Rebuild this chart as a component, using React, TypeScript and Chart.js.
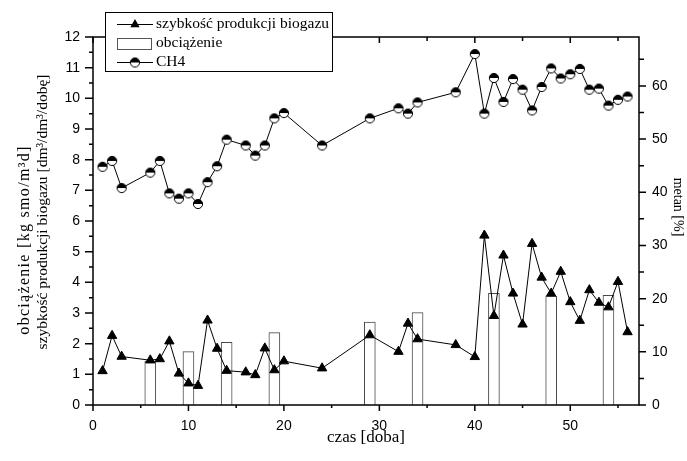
import React, { useEffect, useRef } from 'react';
import { Chart, registerables } from 'chart.js';

Chart.register(...registerables);

// ---- data ----
const days = [1, 2, 3, 6, 7, 8, 9, 10, 11, 12, 13, 14, 16, 17, 18, 19, 20, 24, 29, 32, 33, 34, 38, 40, 41, 42, 43, 44, 45, 46, 47, 48, 49, 50, 51, 52, 53, 54, 55, 56];
const biogasRate = [1.11, 2.26, 1.58, 1.46, 1.5, 2.08, 1.03, 0.71, 0.63, 2.76, 1.84, 1.12, 1.07, 0.98, 1.85, 1.14, 1.43, 1.2, 2.28, 1.74, 2.66, 2.15, 1.96, 1.57, 5.53, 2.91, 4.88, 3.64, 2.63, 5.26, 4.16, 3.64, 4.35, 3.36, 2.75, 3.75, 3.34, 3.19, 4.02, 2.38];
const methane = [44.8, 45.9, 40.8, 43.7, 45.9, 39.8, 38.8, 39.8, 37.8, 41.9, 44.9, 49.9, 48.8, 46.9, 48.8, 53.9, 54.9, 48.8, 53.9, 55.8, 54.8, 56.9, 58.8, 66.0, 54.8, 61.5, 57.0, 61.3, 59.3, 55.4, 59.8, 63.3, 61.4, 62.2, 63.2, 59.3, 59.5, 56.3, 57.4, 58.0];
const loadDays = [6, 10, 14, 19, 29, 34, 42, 48, 54];
const loadValues = [1.43, 1.74, 2.04, 2.36, 2.7, 3.01, 3.64, 3.55, 3.58];

const xTickValues = [0, 5, 10, 15, 20, 25, 30, 35, 40, 45, 50, 55];
const leftTickValues = [0, 0.5, 1, 1.5, 2, 2.5, 3, 3.5, 4, 4.5, 5, 5.5, 6, 6.5, 7, 7.5, 8, 8.5, 9, 9.5, 10, 10.5, 11, 11.5, 12];
const rightTickValues = [0, 5, 10, 15, 20, 25, 30, 35, 40, 45, 50, 55, 60, 65];

const labelBiogas = 'szybkość produkcji biogazu';
const labelLoad = 'obciążenie';
const labelCH4 = 'CH4';
const titleLeft1 = 'obciążenie [kg smo/m³d]';
const titleLeft2 = 'szybkość produkcji biogazu [dm³/dm³/dobę]';
const titleRight = 'metan [%]';
const titleBottom = 'czas [doba]';

const SERIF = '"Liberation Serif", "Times New Roman", serif';
const SANS = '"Liberation Sans", Arial, sans-serif';

function makeHalfCircle(): HTMLCanvasElement {
  const c = document.createElement('canvas');
  c.width = 12;
  c.height = 12;
  const g = c.getContext('2d')!;
  const cx = 6, cy = 6, r = 4.6;
  g.fillStyle = '#fff';
  g.beginPath();
  g.arc(cx, cy, r, 0, Math.PI);
  g.fill();
  g.fillStyle = '#000';
  g.beginPath();
  g.arc(cx, cy, r, Math.PI, 2 * Math.PI);
  g.closePath();
  g.fill();
  g.strokeStyle = '#000';
  g.lineWidth = 1;
  g.beginPath();
  g.arc(cx, cy, r, 0, 2 * Math.PI);
  g.stroke();
  return c;
}

export default function App() {
  const ref = useRef<HTMLCanvasElement>(null);

  useEffect(() => {
    document.body.style.margin = '0';
    Chart.defaults.font.family = SANS;
    const half = makeHalfCircle();

    const decorPlugin = {
      id: 'decor',
      afterDatasetsDraw(chart: any) {
        const { ctx, chartArea, scales } = chart;
        const { left, right, top, bottom } = chartArea;
        ctx.save();
        ctx.strokeStyle = '#000';
        ctx.lineWidth = 1.5;
        ctx.strokeRect(left, top, right - left, bottom - top);
        ctx.beginPath();
        leftTickValues.forEach((v) => {
          const y = scales.y.getPixelForValue(v);
          const len = v % 1 === 0 ? 8 : 4;
          ctx.moveTo(left - len, y);
          ctx.lineTo(left, y);
        });
        rightTickValues.forEach((v) => {
          const y = scales.y2.getPixelForValue(v);
          const len = v % 10 === 0 ? 7 : 5;
          ctx.moveTo(right, y);
          ctx.lineTo(right + len, y);
        });
        xTickValues.forEach((v) => {
          const x = scales.x.getPixelForValue(v);
          const major = v % 10 === 0;
          ctx.moveTo(x, bottom);
          ctx.lineTo(x, bottom + (major ? 6 : 3));
          ctx.moveTo(x, top);
          ctx.lineTo(x, top + (major ? 6 : 4));
        });
        ctx.stroke();

        // axis titles
        ctx.fillStyle = '#000';
        ctx.textAlign = 'center';
        ctx.textBaseline = 'middle';
        ctx.save();
        ctx.font = `16px ${SERIF}`;
        (ctx as any).letterSpacing = '1.3px';
        ctx.translate(25, 240);
        ctx.rotate(-Math.PI / 2);
        ctx.fillText(titleLeft1, 0, 0);
        ctx.restore();
        ctx.save();
        ctx.font = `15.5px ${SERIF}`;
        ctx.translate(43, 212);
        ctx.rotate(-Math.PI / 2);
        ctx.fillText(titleLeft2, 0, 0);
        ctx.restore();
        ctx.save();
        ctx.font = `14px ${SERIF}`;
        ctx.translate(678, 207);
        ctx.rotate(Math.PI / 2);
        ctx.fillText(titleRight, 0, 0);
        ctx.restore();
        ctx.font = `17px ${SERIF}`;
        ctx.fillText(titleBottom, (left + right) / 2, 438);
        ctx.restore();
      },
      afterDraw(chart: any) {
        const { ctx } = chart;
        ctx.save();
        ctx.fillStyle = '#fff';
        ctx.fillRect(105, 12, 228, 60);
        ctx.strokeStyle = '#000';
        ctx.lineWidth = 1;
        ctx.strokeRect(105.5, 12.5, 227, 59);
        ctx.beginPath();
        ctx.moveTo(117, 24.5);
        ctx.lineTo(153, 24.5);
        ctx.moveTo(117, 62.5);
        ctx.lineTo(153, 62.5);
        ctx.stroke();
        const r = 5.4;
        ctx.fillStyle = '#000';
        ctx.beginPath();
        ctx.moveTo(135, 24.5 - r);
        ctx.lineTo(135 + r * Math.sin((2 * Math.PI) / 3), 24.5 + r * 0.5);
        ctx.lineTo(135 - r * Math.sin((2 * Math.PI) / 3), 24.5 + r * 0.5);
        ctx.closePath();
        ctx.fill();
        ctx.strokeStyle = '#555';
        ctx.fillStyle = '#fff';
        ctx.fillRect(117, 38, 34, 11);
        ctx.strokeRect(117.5, 38.5, 34, 11);
        ctx.drawImage(half, 129, 56.5);
        ctx.fillStyle = '#000';
        ctx.font = `15.5px ${SERIF}`;
        ctx.textAlign = 'left';
        ctx.textBaseline = 'middle';
        ctx.fillText(labelBiogas, 156, 24);
        ctx.fillText(labelLoad, 156, 43);
        ctx.fillText(labelCH4, 156, 62);
        ctx.restore();
      },
    };

    const tickFont = { family: SANS, size: 14 };

    const chart = new Chart(ref.current as HTMLCanvasElement, {
      type: 'line',
      data: {
        datasets: [
          {
            type: 'bar',
            label: labelLoad,
            data: loadDays.map((d, i) => ({ x: d, y: loadValues[i] })),
            xAxisID: 'x',
            yAxisID: 'y',
            backgroundColor: '#ffffff',
            borderColor: '#4a4a4a',
            borderWidth: 1,
            barThickness: 11,
            order: 3,
          } as any,
          {
            type: 'line',
            label: labelBiogas,
            data: days.map((d, i) => ({ x: d, y: biogasRate[i] })),
            xAxisID: 'x',
            yAxisID: 'y',
            borderColor: '#000',
            borderWidth: 1,
            backgroundColor: '#000',
            pointStyle: 'triangle',
            pointRadius: 5.4,
            pointBorderWidth: 1,
            pointBorderColor: '#000',
            pointBackgroundColor: '#000',
            tension: 0,
            order: 1,
          },
          {
            type: 'line',
            label: labelCH4,
            data: days.map((d, i) => ({ x: d, y: methane[i] })),
            xAxisID: 'x',
            yAxisID: 'y2',
            borderColor: '#000',
            borderWidth: 1,
            pointStyle: half as any,
            pointRadius: 5,
            tension: 0,
            order: 2,
          },
        ],
      },
      options: {
        responsive: false,
        animation: false,
        devicePixelRatio: 1,
        layout: { padding: { top: 37, left: 0, right: 0, bottom: 0 } },
        plugins: {
          legend: { display: false },
          tooltip: { enabled: false },
          title: { display: false },
        },
        scales: {
          x: {
            type: 'linear',
            position: 'bottom',
            min: 0,
            max: 57.2,
            offset: false,
            grid: { display: false, drawTicks: false },
            border: { display: false },
            ticks: {
              stepSize: 10,
              includeBounds: false,
              font: tickFont,
              color: '#000',
              padding: 13,
              maxRotation: 0,
              autoSkip: false,
            },
            afterFit: (s: any) => {
              s.height = 56;
            },
          },
          y: {
            type: 'linear',
            position: 'left',
            min: 0,
            max: 12,
            grid: { display: false, drawTicks: false },
            border: { display: false },
            ticks: { stepSize: 1, font: tickFont, color: '#000', padding: 13 },
            afterFit: (s: any) => {
              s.width = 93;
            },
          },
          y2: {
            type: 'linear',
            position: 'right',
            min: 0,
            max: 69.2,
            grid: { display: false, drawTicks: false },
            border: { display: false },
            ticks: { stepSize: 10, includeBounds: false, font: tickFont, color: '#000', padding: 13 },
            afterFit: (s: any) => {
              s.width = 48;
            },
          },
        },
      } as any,
      plugins: [decorPlugin],
    });

    return () => chart.destroy();
  }, []);

  return (
    <div style={{ width: 687, height: 461, background: '#fff' }}>
      <canvas ref={ref} width={687} height={461} style={{ display: 'block' }} />
    </div>
  );
}
